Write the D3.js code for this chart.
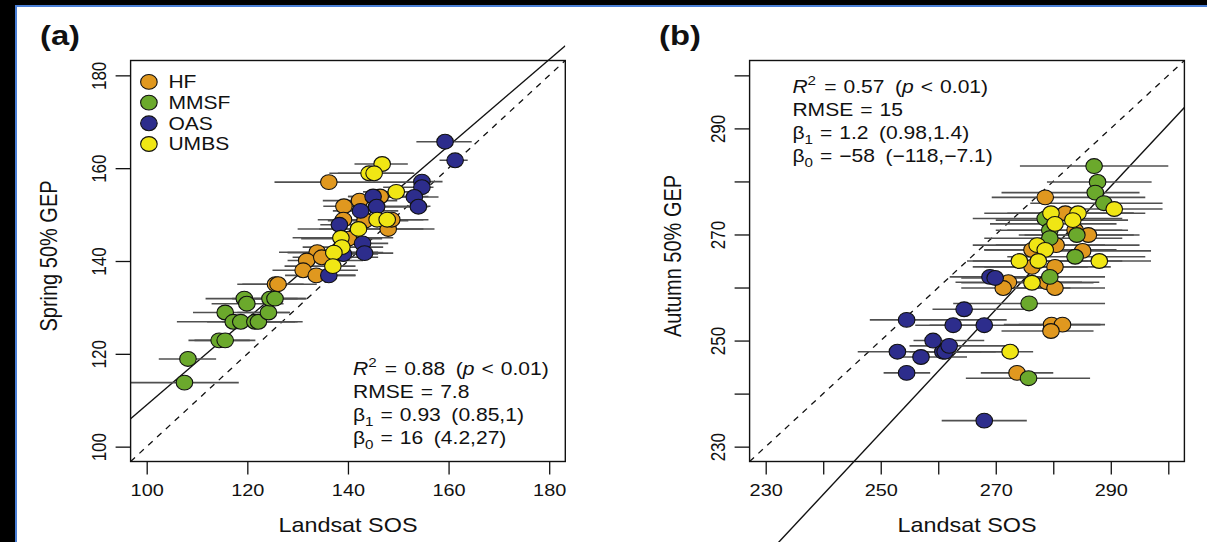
<!DOCTYPE html>
<html>
<head>
<meta charset="utf-8">
<script src="https://cdn.jsdelivr.net/npm/d3@7"></script>
<style>
  html, body { margin: 0; padding: 0; background: #000; overflow: hidden; }
  text { font-family: "Liberation Sans", Arial, Helvetica, sans-serif; fill: #111; }
</style>
</head>
<body>
<svg id="fig" width="1207" height="542"></svg>
<script>
// ---------------- data ----------------
const siteNames  = ["HF", "MMSF", "OAS", "UMBS"];
const siteColors = ["#E0981F", "#6BA92C", "#2D2D8C", "#F0E614"];

// (a) spring: Landsat SOS vs 50% GEP date, with SOS uncertainty range
const springSite = ["HF","HF","HF","HF","HF","HF","HF","HF","HF","HF","HF","HF","HF","HF","HF","HF",
  "MMSF","MMSF","MMSF","MMSF","MMSF","MMSF","MMSF","MMSF","MMSF","MMSF","MMSF","MMSF","MMSF","MMSF",
  "OAS","OAS","OAS","OAS","OAS","OAS","OAS","OAS","OAS","OAS","OAS","OAS","OAS","OAS",
  "UMBS","UMBS","UMBS","UMBS","UMBS","UMBS","UMBS","UMBS","UMBS","UMBS","UMBS"];
const springSOS = [136.2,139.2,142.3,146.4,139.1,148.0,148.7,143.4,140.1,133.9,131.8,131.1,133.7,125.6,126.1,134.8,
  107.5,108.2,114.4,115.6,115.6,117.2,118.7,119.4,119.9,121.5,122.2,124.2,124.5,125.5,
  159.3,161.3,154.7,154.7,153.2,154.0,145.0,142.5,145.7,138.3,142.9,143.3,136.2,139.1,
  146.8,144.2,145.2,149.6,145.8,147.8,142.1,138.6,138.8,137.2,137.0];
const springGEP = [157.0,151.8,153.0,153.9,148.9,146.9,148.9,148.7,144.8,141.9,140.1,138.0,136.9,135.0,135.0,140.8,
  113.8,118.9,122.9,122.9,128.9,126.9,126.9,131.9,130.8,126.9,126.9,128.9,131.9,131.9,
  165.7,161.7,157.1,155.9,153.8,151.7,153.9,150.8,151.7,147.8,143.8,141.7,136.9,141.5,
  160.9,158.9,158.9,154.9,148.9,148.9,146.9,145.0,143.0,141.8,138.9];
const springLo = [125.4,135.1,135.0,140.0,134.0,134.3,140.0,136.0,130.7,126.3,128.0,125.0,127.5,118.0,119.0,129.0,
  95.0,102.4,108.3,109.5,109.2,106.0,112.0,111.7,112.9,115.0,117.0,118.0,117.0,119.0,
  153.6,158.2,154.0,147.0,146.0,145.0,140.0,137.0,141.0,134.5,138.0,137.0,130.5,133.0,
  141.3,136.3,138.0,143.0,137.0,138.0,130.0,129.0,131.0,128.0,127.4];
const springHi = [153.2,156.4,149.8,156.0,150.5,157.2,155.0,152.0,146.8,146.0,143.0,142.0,141.5,131.2,133.8,146.0,
  118.3,113.8,120.5,121.6,128.4,129.5,127.0,131.6,127.2,131.0,130.0,128.5,131.8,130.0,
  164.6,163.8,158.8,157.0,158.0,156.0,153.0,150.0,155.0,144.0,148.0,149.0,141.5,146.0,
  151.9,153.2,153.0,156.0,150.0,156.0,155.0,149.0,147.0,147.0,141.5];

// (b) autumn: Landsat SOS vs 50% GEP date
const autumnSite = ["HF","HF","HF","HF","HF","HF","HF","HF","HF","HF","HF","HF","HF","HF","HF","HF","HF",
  "MMSF","MMSF","MMSF","MMSF","MMSF","MMSF","MMSF","MMSF","MMSF","MMSF","MMSF","MMSF",
  "OAS","OAS","OAS","OAS","OAS","OAS","OAS","OAS","OAS","OAS","OAS","OAS","OAS","OAS",
  "UMBS","UMBS","UMBS","UMBS","UMBS","UMBS","UMBS","UMBS","UMBS","UMBS","UMBS","UMBS"];
const autumnSOS = [278.6,282.1,283.8,286.1,285.1,276.3,280.5,280.3,276.3,272.2,271.3,278.9,280.3,279.7,281.6,279.6,273.7,
  287.1,287.7,287.3,288.8,278.6,279.4,279.4,284.1,283.8,279.4,275.8,275.7,
  268.0,254.5,252.9,257.0,260.8,261.2,261.9,259.1,262.6,268.0,254.5,264.5,269.0,269.9,
  290.6,279.6,284.3,283.4,280.3,277.2,278.6,274.1,277.4,288.0,276.3,272.5];
const autumnGEP = [277.0,274.0,270.8,269.9,266.9,267.1,268.0,263.9,263.9,261.0,259.9,261.0,259.9,253.0,253.0,251.8,243.9,
  282.9,279.9,277.9,275.9,273.0,270.8,269.3,269.9,265.8,262.0,257.0,242.9,
  234.9,243.9,247.9,246.9,247.9,247.9,249.0,250.0,252.9,252.9,253.9,255.9,262.0,261.8,
  274.8,274.0,274.0,272.7,272.0,268.0,267.1,265.0,265.0,265.0,260.9,247.9];
const autumnLo = [269.3,272.0,272.0,275.0,276.0,268.0,270.0,268.0,266.0,263.0,264.0,268.0,270.0,271.4,274.0,271.0,267.4,
  274.2,278.9,271.0,276.0,266.0,270.0,268.0,274.0,272.0,268.0,262.6,264.8,
  260.6,250.5,246.0,252.0,255.0,256.0,255.0,255.7,258.5,256.0,248.1,259.0,262.0,264.0,
  280.0,268.0,274.0,270.0,269.0,266.0,268.0,265.0,266.0,278.0,264.0,258.6];
const autumnHi = [296.0,294.0,292.0,294.0,297.0,290.0,295.0,290.0,286.0,285.0,283.0,288.0,289.0,288.2,289.0,287.0,280.0,
  300.0,297.1,295.0,299.0,292.0,293.0,292.0,295.0,296.0,289.0,289.0,286.4,
  275.4,258.6,267.5,265.0,272.0,270.0,272.0,268.0,269.0,278.0,271.9,275.0,279.0,277.0,
  299.0,294.0,296.0,293.0,291.0,289.0,291.0,286.0,292.0,297.0,287.0,276.5];

// regression summaries: [spring, autumn]
const fitR2        = [0.88, 0.57];
const fitRMSE      = [7.8, 15];
const fitSlope     = [0.93, 1.162];
const fitSlopeLo   = [0.85, 0.98];
const fitSlopeHi   = [1, 1.4];
const fitIntercept = [16, -57.9];
const fitInterLo   = [4.2, -118];
const fitInterHi   = [27, -7.1];

// axis ticks
const springTicks  = [100, 120, 140, 160, 180];
const springLabels = [100, 120, 140, 160, 180];
const autumnTicks  = [230, 240, 250, 260, 270, 280, 290, 300];
const autumnLabels = [230, 250, 270, 290];

// ---------------- drawing ----------------
const SX = 1.17;                       // horizontal text stretch of the figure
const svg = d3.select("#fig");
const defs = svg.append("defs");

// frame
svg.append("rect").attr("width", 1207).attr("height", 542).attr("fill", "#000");
svg.append("rect").attr("x", 15).attr("y", 5).attr("width", 1192).attr("height", 537).attr("fill", "#4a7fd6");
svg.append("rect").attr("x", 17).attr("y", 7).attr("width", 1190).attr("height", 535).attr("fill", "#fff");

const minus = v => (v < 0 ? "\u2212" : "") + Math.abs(v);
const sig2 = v => d3.format(".2")(v);

function sText(parent, x, y, size, opts = {}) {
  return parent.append("text")
    .attr("transform", `translate(${x},${y}) scale(${SX},1)` + (opts.rot ? ` rotate(${opts.rot})` : ""))
    .attr("font-size", size)
    .attr("font-weight", opts.bold ? "bold" : null)
    .attr("text-anchor", opts.anchor || "start");
}

// writes a run of segments; sup/sub segments are smaller and shifted,
// gap adds extra horizontal room before a segment (math spacing)
function richLine(parent, x, y, size, segs) {
  const t = sText(parent, x, y, size);
  let shift = 0;
  segs.forEach(s => {
    const target = s.sup ? -0.42 * size : s.sub ? 0.28 * size : 0;
    t.append("tspan")
      .attr("dy", target - shift)
      .attr("dx", s.gap || null)
      .attr("font-size", (s.sup || s.sub) ? size * 0.72 : size)
      .attr("font-style", s.it ? "italic" : null)
      .text(s.t);
    shift = target;
  });
  return t;
}

function drawPanel(cfg) {
  const x = d3.scaleLinear().domain(cfg.dom).range([cfg.left, cfg.right]);
  const y = d3.scaleLinear().domain(cfg.dom).range([cfg.bottom, cfg.top]);
  const g = svg.append("g");

  const boxClip = "clipbox" + cfg.id, colClip = "clipcol" + cfg.id;
  defs.append("clipPath").attr("id", boxClip).append("rect")
    .attr("x", cfg.left).attr("y", cfg.top)
    .attr("width", cfg.right - cfg.left).attr("height", cfg.bottom - cfg.top);
  defs.append("clipPath").attr("id", colClip).append("rect")
    .attr("x", cfg.left).attr("y", 0)
    .attr("width", cfg.right - cfg.left).attr("height", 542);

  // 1:1 and fitted lines
  const d0 = cfg.dom[0], d1 = cfg.dom[1];
  g.append("line").attr("clip-path", `url(#${colClip})`)
    .attr("x1", x(d0)).attr("y1", y(d0)).attr("x2", x(d1)).attr("y2", y(d1))
    .attr("stroke", "#111").attr("stroke-width", 1.3).attr("stroke-dasharray", "6,6");
  const b0 = fitIntercept[cfg.k], b1 = fitSlope[cfg.k];
  g.append("line").attr("clip-path", `url(#${colClip})`)
    .attr("x1", x(d0)).attr("y1", y(b0 + b1 * d0)).attr("x2", x(d1)).attr("y2", y(b0 + b1 * d1))
    .attr("stroke", "#111").attr("stroke-width", 1.4);

  const rows = cfg.site.map((s, i) => ({ s, xv: cfg.xs[i], yv: cfg.ys[i], lo: cfg.lo[i], hi: cfg.hi[i] }));

  // SOS uncertainty bars
  g.append("g").attr("clip-path", `url(#${boxClip})`)
    .selectAll("line").data(rows).join("line")
    .attr("x1", d => x(d.lo)).attr("x2", d => x(d.hi))
    .attr("y1", d => y(d.yv)).attr("y2", d => y(d.yv))
    .attr("stroke", "#505050").attr("stroke-width", 1.6);

  // points, drawn site by site
  const ordered = siteNames.flatMap(n => rows.filter(r => r.s === n));
  g.append("g").selectAll("ellipse").data(ordered).join("ellipse")
    .attr("cx", d => x(d.xv)).attr("cy", d => y(d.yv))
    .attr("rx", 8.3).attr("ry", 7.4)
    .attr("fill", d => siteColors[siteNames.indexOf(d.s)])
    .attr("stroke", "#111").attr("stroke-width", 1.1);

  // plot box
  g.append("rect").attr("x", cfg.left).attr("y", cfg.top)
    .attr("width", cfg.right - cfg.left).attr("height", cfg.bottom - cfg.top)
    .attr("fill", "none").attr("stroke", "#111").attr("stroke-width", 1.4);

  // axes
  const fmt = d => cfg.labels.includes(d) ? String(d) : "";
  const ax = g.append("g").attr("transform", `translate(0,${cfg.bottom})`)
    .call(d3.axisBottom(x).tickValues(cfg.ticks).tickSize(13).tickFormat(fmt));
  ax.select(".domain").remove();
  ax.selectAll(".tick line").attr("stroke", "#111").attr("stroke-width", 1.3);
  ax.selectAll(".tick text").attr("y", 0).attr("dy", null)
    .attr("transform", `translate(0,34) scale(${SX},1)`)
    .attr("font-size", 17).attr("font-family", null).attr("fill", "#111");

  const ay = g.append("g").attr("transform", `translate(${cfg.left},0)`)
    .call(d3.axisLeft(y).tickValues(cfg.ticks).tickSize(15).tickFormat(fmt));
  ay.select(".domain").remove();
  ay.selectAll(".tick line").attr("stroke", "#111").attr("stroke-width", 1.3);
  ay.selectAll(".tick text").attr("x", 0).attr("dy", null).attr("text-anchor", "middle")
    .attr("transform", `translate(-25,0) scale(${SX},1) rotate(-90)`)
    .attr("font-size", 17).attr("font-family", null).attr("fill", "#111");

  // axis titles and panel tag
  sText(g, (cfg.left + cfg.right) / 2, 532, 20, { anchor: "middle" }).text("Landsat SOS");
  sText(g, cfg.ytitleX, 256, 20, { anchor: "middle", rot: -90 }).text(cfg.ytitle);
  sText(g, cfg.tagX, 45, 28, { bold: true }).text(cfg.tag);

  // fit statistics
  const k = cfg.k, sx = cfg.statX, sy = cfg.statY, lh = 23;
  richLine(g, sx, sy, 18, [{ t: "R", it: true }, { t: "2", sup: true },
    { t: "=", gap: 7 }, { t: fitR2[k].toFixed(2), gap: 6 }, { t: "(", gap: 9 }, { t: "p", it: true },
    { t: "<", gap: 6 }, { t: "0.01)", gap: 6 }]);
  richLine(g, sx, sy + lh, 18, [{ t: "RMSE" }, { t: "=", gap: 6 }, { t: String(fitRMSE[k]), gap: 6 }]);
  richLine(g, sx, sy + 2 * lh, 18, [{ t: "\u03b2" }, { t: "1", sub: true },
    { t: "=", gap: 6 }, { t: sig2(fitSlope[k]), gap: 6 },
    { t: "(" + minus(fitSlopeLo[k]) + "," + minus(fitSlopeHi[k]) + ")", gap: 9 }]);
  richLine(g, sx, sy + 3 * lh, 18, [{ t: "\u03b2" }, { t: "0", sub: true },
    { t: "=", gap: 6 }, { t: sig2(fitIntercept[k]).replace("-", "\u2212"), gap: 6 },
    { t: "(" + minus(fitInterLo[k]) + "," + minus(fitInterHi[k]) + ")", gap: 9 }]);

  return g;
}

const gA = drawPanel({
  id: "a", k: 0, tag: "(a)", tagX: 40, ytitle: "Spring 50% GEP", ytitleX: 57,
  left: 130.6, right: 565.3, top: 60.5, bottom: 461.5, dom: [96.8, 183.2],
  ticks: springTicks, labels: springLabels,
  site: springSite, xs: springSOS, ys: springGEP, lo: springLo, hi: springHi,
  statX: 353, statY: 375
});

drawPanel({
  id: "b", k: 1, tag: "(b)", tagX: 659, ytitle: "Autumn 50% GEP", ytitleX: 680.5,
  left: 749.6, right: 1184.4, top: 60.5, bottom: 461.5, dom: [227.2, 302.8],
  ticks: autumnTicks, labels: autumnLabels,
  site: autumnSite, xs: autumnSOS, ys: autumnGEP, lo: autumnLo, hi: autumnHi,
  statX: 792.4, statY: 92.6
});

// legend (panel a)
const leg = gA.append("g");
siteNames.forEach((n, i) => {
  const cy = 81.9 + i * 20.7;
  leg.append("ellipse").attr("cx", 148.9).attr("cy", cy).attr("rx", 8.3).attr("ry", 7.4)
    .attr("fill", siteColors[i]).attr("stroke", "#111").attr("stroke-width", 1.1);
  sText(leg, 168.4, cy + 6.4, 18).text(n);
});
</script>
</body>
</html>
